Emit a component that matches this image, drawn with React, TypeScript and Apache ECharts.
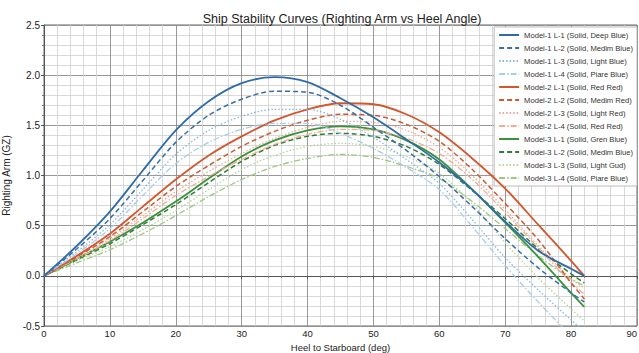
import React, { useEffect, useRef } from "react";
import * as echarts from "echarts";

const angles = [0, 5, 10, 15, 20, 25, 30, 35, 40, 45, 50, 55, 60, 65, 70, 75, 80, 82];

const m1l1 = [0, 0.3, 0.64, 1.05, 1.45, 1.74, 1.92, 1.98, 1.93, 1.77, 1.58, 1.36, 1.13, 0.86, 0.54, 0.25, 0.07, 0.0];
const m1l2 = [0, 0.27, 0.57, 0.95, 1.33, 1.6, 1.76, 1.84, 1.83, 1.7, 1.48, 1.25, 0.99, 0.69, 0.37, 0.08, -0.17, -0.26];
const m1l3 = [0, 0.24, 0.51, 0.86, 1.21, 1.45, 1.59, 1.66, 1.66, 1.56, 1.38, 1.16, 0.92, 0.56, 0.18, -0.14, -0.44, -0.56];
const m1l4 = [0, 0.22, 0.47, 0.8, 1.12, 1.33, 1.46, 1.52, 1.52, 1.42, 1.27, 1.08, 0.86, 0.49, 0.1, -0.26, -0.6, -0.72];
const m2l1 = [0, 0.2, 0.42, 0.69, 0.96, 1.2, 1.39, 1.55, 1.66, 1.72, 1.71, 1.61, 1.43, 1.17, 0.87, 0.51, 0.15, 0.0];
const m2l2 = [0, 0.19, 0.39, 0.64, 0.89, 1.1, 1.29, 1.44, 1.55, 1.61, 1.6, 1.51, 1.34, 1.06, 0.72, 0.36, -0.07, -0.23];
const m2l3 = [0, 0.18, 0.37, 0.6, 0.84, 1.04, 1.22, 1.37, 1.48, 1.54, 1.53, 1.45, 1.28, 1.0, 0.66, 0.3, -0.03, -0.12];
const m2l4 = [0, 0.17, 0.35, 0.57, 0.8, 0.99, 1.16, 1.31, 1.41, 1.46, 1.45, 1.37, 1.22, 0.96, 0.63, 0.28, -0.07, -0.18];
const m3l1 = [0, 0.17, 0.34, 0.53, 0.74, 0.97, 1.19, 1.35, 1.45, 1.49, 1.46, 1.35, 1.16, 0.86, 0.53, 0.19, -0.17, -0.31];
const m3l2 = [0, 0.16, 0.32, 0.51, 0.71, 0.93, 1.14, 1.3, 1.39, 1.42, 1.39, 1.29, 1.11, 0.85, 0.57, 0.27, 0.02, -0.07];
const m3l3 = [0, 0.15, 0.29, 0.46, 0.65, 0.86, 1.06, 1.2, 1.29, 1.32, 1.29, 1.19, 1.02, 0.72, 0.33, -0.02, -0.33, -0.45];
const m3l4 = [0, 0.13, 0.26, 0.42, 0.6, 0.79, 0.96, 1.09, 1.17, 1.21, 1.18, 1.09, 0.97, 0.74, 0.47, 0.2, -0.03, -0.1];

const names = [
  "Model-1 L-1 (Solid, Deep Blue)",
  "Model-1 L-2 (Solid, Medim Blue)",
  "Model-1 L-3 (Solid, Light Blue)",
  "Model-1 L-4 (Solid, Piare Blue)",
  "Model-2 L-1 (Solid, Red Red)",
  "Model-2 L-2 (Solid, Medim Red)",
  "Model-2 L-3 (Solid, Light Red)",
  "Model-2 L-4 (Solid, Red Red)",
  "Model-3 L-1 (Solid, Gren Blue)",
  "Model-3 L-2 (Solid, Medim Blue)",
  "Model-3 L-3 (Solid, Light Gud)",
  "Model-3 L-4 (Solid, Piare Blue)",
];
const values = [m1l1, m1l2, m1l3, m1l4, m2l1, m2l2, m2l3, m2l4, m3l1, m3l2, m3l3, m3l4];

const styles: any[] = [
  { color: "#2e6ca8", type: "solid", width: 1.8 },
  { color: "#3a6ea6", type: [5, 3], width: 1.5 },
  { color: "#86b6e0", type: [1.5, 2], width: 1.3 },
  { color: "#a9cce8", type: [6, 2, 1.5, 2], width: 1.3 },
  { color: "#d4562c", type: "solid", width: 1.8 },
  { color: "#cc5a32", type: [5, 3], width: 1.5 },
  { color: "#f0a990", type: [1.5, 2], width: 1.3 },
  { color: "#f1ac92", type: [6, 2, 1.5, 2], width: 1.3 },
  { color: "#3a923c", type: "solid", width: 1.8 },
  { color: "#2f7e36", type: [5, 3], width: 1.5 },
  { color: "#b2d69a", type: [1.5, 2], width: 1.3 },
  { color: "#9cc97e", type: [6, 2, 1.5, 2], width: 1.3 },
];

const FONT = "Liberation Sans, Arial, Helvetica, sans-serif";

export default function App() {
  const ref = useRef<HTMLDivElement>(null);
  useEffect(() => {
    if (!ref.current) return;
    const chart = echarts.init(ref.current, undefined, { renderer: "svg" });
    const series = names.map((n, i) => ({
      name: n,
      type: "line",
      data: angles.map((a, j) => [a, values[i][j]]),
      smooth: 0.3,
      symbol: "none",
      clip: true,
      lineStyle: styles[i],
      itemStyle: { color: styles[i].color },
      z: 20 - i,
    }));
    chart.setOption({
      animation: false,
      backgroundColor: "#ffffff",
      textStyle: { fontFamily: FONT },
      title: {
        text: "Ship Stability Curves (Righting Arm vs Heel Angle)",
        left: 337,
        textAlign: "center",
        top: 7,
        textStyle: { fontSize: 12.5, fontWeight: "normal", color: "#222", fontFamily: FONT },
      },
      grid: {
        left: 44,
        right: 2,
        top: 25,
        bottom: 27,
        outerBoundsMode: "none",
        containLabel: false,
        show: true,
        borderColor: "#666",
        borderWidth: 1,
      },
      legend: {
        orient: "vertical",
        right: 2,
        top: 27,
        itemWidth: 20,
        itemHeight: 8,
        itemGap: 5,
        padding: [4, 4, 4, 4],
        backgroundColor: "#ffffff",
        borderColor: "#aaa",
        borderWidth: 0.8,
        itemStyle: { opacity: 0 },
        textStyle: { fontSize: 7.6, color: "#333", fontFamily: FONT },
        data: names,
      },
      xAxis: {
        type: "value",
        min: 0,
        max: 90,
        interval: 10,
        name: "Heel to Starboard (deg)",
        nameLocation: "middle",
        nameGap: 11,
        nameTextStyle: { fontSize: 9.5, color: "#222", fontFamily: FONT, lineHeight: 10 },
        axisLine: { show: true, lineStyle: { color: "#555", width: 1 } },
        axisTick: { show: true, length: 3, lineStyle: { color: "#555" } },
        minorTick: { show: true, splitNumber: 5, length: 2, lineStyle: { color: "#777" } },
        axisLabel: { fontSize: 9.5, color: "#222", margin: 2, fontFamily: FONT, alignMaxLabel: "right" },
        splitLine: { show: true, lineStyle: { color: "#8c8c8c", width: 0.9 } },
        minorSplitLine: { show: true, lineStyle: { color: "#cfcfcf", width: 0.8 } },
      },
      yAxis: {
        type: "value",
        min: -0.5,
        max: 2.5,
        interval: 0.5,
        name: "Righting Arm (GZ)",
        nameLocation: "middle",
        nameGap: 29,
        nameTextStyle: { fontSize: 10, color: "#222", fontFamily: FONT },
        axisLine: { show: true, lineStyle: { color: "#555", width: 1 } },
        axisTick: { show: true, length: 3, lineStyle: { color: "#555" } },
        minorTick: { show: true, splitNumber: 5, length: 2, lineStyle: { color: "#777" } },
        axisLabel: {
          fontSize: 10,
          color: "#222",
          margin: 4,
          fontFamily: FONT,
          formatter: (v: number) => v.toFixed(1),
        },
        splitLine: { show: true, lineStyle: { color: "#8c8c8c", width: 0.9 } },
        minorSplitLine: { show: true, lineStyle: { color: "#cfcfcf", width: 0.8 } },
      },
      series,
    });
    return () => chart.dispose();
  }, []);
  return (
    <div
      ref={ref}
      style={{ position: "fixed", left: 0, top: 0, width: 639, height: 353, background: "#fff" }}
    />
  );
}
